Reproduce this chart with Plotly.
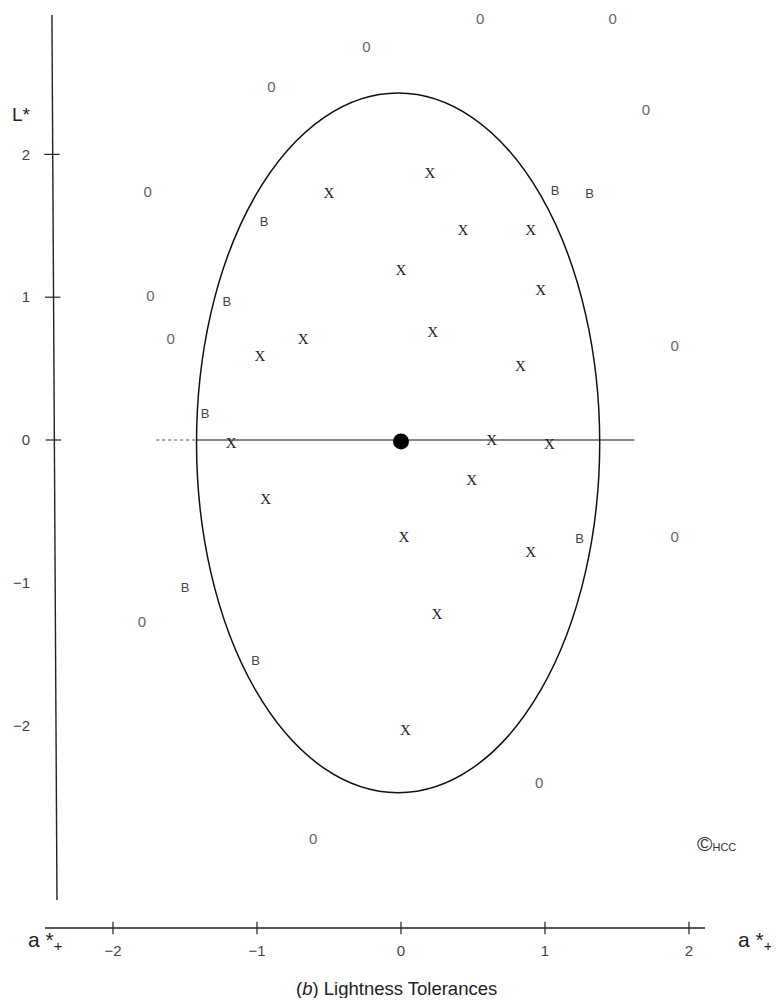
import plotly.graph_objects as go

# ---------------- data ----------------
x_pts_x = [0.20, -0.50, 0.43, 0.90, 0.00, 0.97, 0.22, -0.68, -0.98, 0.83,
           -1.18, 0.63, 1.03, 0.49, -0.94, 0.02, 0.90, 0.25, 0.03]
x_pts_y = [1.86, 1.72, 1.46, 1.46, 1.18, 1.04, 0.75, 0.70, 0.58, 0.51,
           -0.03, -0.01, -0.04, -0.29, -0.42, -0.69, -0.79, -1.23, -2.04]

b_pts_x = [-0.95, 1.07, 1.31, -1.21, -1.36, 1.24, -1.50, -1.01]
b_pts_y = [1.52, 1.74, 1.72, 0.96, 0.18, -0.70, -1.04, -1.55]

o_pts_x = [0.55, 1.47, -0.24, -0.90, 1.70, -1.76, -1.74, -1.60, 1.90, 1.90, -1.80, 0.96, -0.61]
o_pts_y = [2.94, 2.94, 2.74, 2.46, 2.30, 1.73, 1.00, 0.70, 0.65, -0.69, -1.28, -2.41, -2.80]

standard_x = [0.0]
standard_y = [-0.01]

# tolerance ellipse (bounding box in a*, L* units)
ell_x0, ell_x1 = -1.42, 1.38
ell_y0, ell_y1 = -2.47, 2.43

# reference line along L* = 0
hline_dot = [-1.70, -1.42]
hline_solid = [-1.42, 1.62]

tick_vals_x = [-2, -1, 0, 1, 2]
tick_text_x = ["\u22122", "\u22121", "0", "1", "2"]
tick_vals_y = [-2, -1, 0, 1, 2]
tick_text_y = ["\u22122", "\u22121", "0", "1", "2"]

# axis-line extents (data units)
yaxis_line_x = [-2.424, -2.389]
yaxis_line_y = [2.976, -3.221]
xaxis_line_x = [-2.472, 2.111]
xaxis_line_y = [-3.417, -3.417]
ytick_marks = [0, 1, 2]

# ---------------- figure geometry ----------------
OFF = 8                     # default page body margin
W, H = 779 - 2 * OFF, 1006 - 2 * OFF
X0_PX, X_UNIT = 401 - OFF, 144.0
Y0_PX, Y_UNIT = 440 - OFF, 142.8
X_RANGE = [-X0_PX / X_UNIT, (W - X0_PX) / X_UNIT]
Y_RANGE = [-(H - Y0_PX) / Y_UNIT, Y0_PX / Y_UNIT]


def px(x):
    return (x - OFF) / W


def py(y):
    return 1 - (y - OFF) / H


fig = go.Figure()

# axis lines
fig.add_trace(go.Scatter(x=yaxis_line_x, y=yaxis_line_y, mode="lines",
                         line=dict(color="#222", width=1.4), hoverinfo="skip"))
fig.add_trace(go.Scatter(x=xaxis_line_x, y=xaxis_line_y, mode="lines",
                         line=dict(color="#222", width=1.4), hoverinfo="skip"))
# tick crosses
fig.add_trace(go.Scatter(x=tick_vals_x, y=[xaxis_line_y[0]] * len(tick_vals_x), mode="markers",
                         marker=dict(symbol="line-ns", size=9, line=dict(color="#222", width=1.2)),
                         hoverinfo="skip"))
fig.add_trace(go.Scatter(x=[yaxis_line_x[0] + 0.005 * (2 - v) for v in ytick_marks], y=ytick_marks,
                         mode="markers",
                         marker=dict(symbol="line-ew", size=11, line=dict(color="#222", width=1.2)),
                         hoverinfo="skip"))

# horizontal reference line
fig.add_trace(go.Scatter(x=hline_dot, y=[0, 0], mode="lines",
                         line=dict(color="#555", width=1, dash="dot"), hoverinfo="skip"))
fig.add_trace(go.Scatter(x=hline_solid, y=[0, 0], mode="lines",
                         line=dict(color="#111", width=1.2), hoverinfo="skip"))

# ellipse
fig.add_shape(type="circle", xref="x", yref="y",
              x0=ell_x0, x1=ell_x1, y0=ell_y0, y1=ell_y1,
              line=dict(color="#111", width=1.5))

# sample points
fig.add_trace(go.Scatter(x=o_pts_x, y=o_pts_y, mode="text", text=["0"] * len(o_pts_x),
                         textfont=dict(family="Liberation Sans", size=15, color="#666"),
                         hoverinfo="skip"))
fig.add_trace(go.Scatter(x=b_pts_x, y=b_pts_y, mode="text", text=["B"] * len(b_pts_x),
                         textfont=dict(family="Liberation Sans", size=13, color="#444"),
                         hoverinfo="skip"))
fig.add_trace(go.Scatter(x=x_pts_x, y=x_pts_y, mode="text", text=["X"] * len(x_pts_x),
                         textfont=dict(family="Liberation Serif", size=15, color="#222"),
                         hoverinfo="skip"))
# standard
fig.add_trace(go.Scatter(x=standard_x, y=standard_y, mode="markers",
                         marker=dict(color="#000", size=16), hoverinfo="skip"))

fig.update_layout(
    width=W, height=H,
    margin=dict(l=0, r=0, t=0, b=0),
    paper_bgcolor="white", plot_bgcolor="white",
    showlegend=False,
    xaxis=dict(range=X_RANGE, showgrid=False, zeroline=False, showline=False,
               tickvals=tick_vals_x, ticktext=tick_text_x,
               ticks="outside", ticklen=9, tickcolor="rgba(0,0,0,0)",
               anchor="free", position=(H - (928 - OFF)) / H,
               tickfont=dict(family="Liberation Sans", size=15, color="#444")),
    yaxis=dict(range=Y_RANGE, showgrid=False, zeroline=False, showline=False,
               tickvals=tick_vals_y, ticktext=tick_text_y,
               ticks="outside", ticklen=20, tickcolor="rgba(0,0,0,0)",
               anchor="free", position=(53 - OFF) / W,
               tickfont=dict(family="Liberation Sans", size=15, color="#444")),
)

# text labels
ann = dict(xref="paper", yref="paper", showarrow=False, xanchor="center", yanchor="middle")
fig.add_annotation(x=px(21), y=py(114), text="L*",
                   font=dict(family="Liberation Sans", size=19, color="#222"), **ann)
for cx in (45, 755):
    fig.add_annotation(x=px(cx), y=py(941), text="a *<sub>+</sub>",
                       font=dict(family="Liberation Sans", size=21, color="#222"), **ann)
fig.add_annotation(x=px(716), y=py(843),
                   text="<span style='font-size:21px'>©</span>HCC",
                   font=dict(family="Liberation Sans", size=11, color="#333"), **ann)
fig.add_annotation(x=px(397), y=py(988), text="(<i>b</i>) Lightness Tolerances",
                   font=dict(family="Liberation Sans", size=18.5, color="#222"), **ann)

fig.write_html("out.html")
